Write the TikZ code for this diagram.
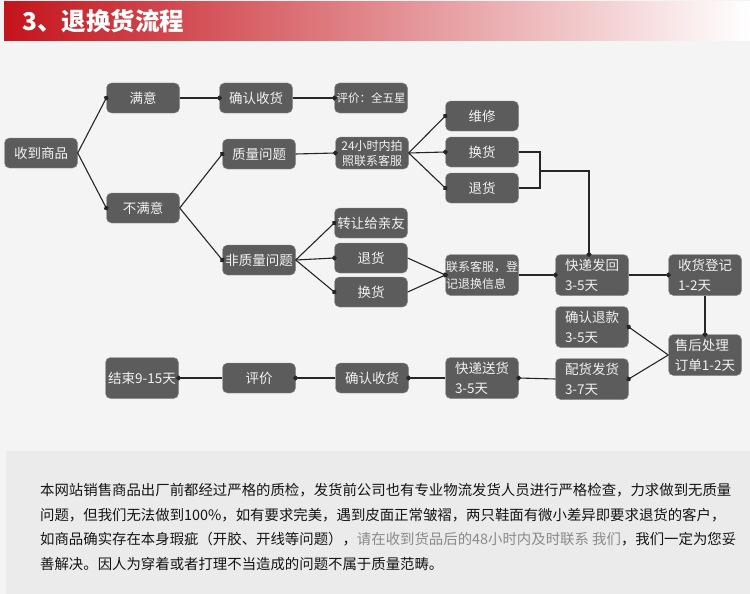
\documentclass[tikz,border=0pt]{standalone}
\usepackage{fontspec}
\setmainfont{Noto Sans CJK SC}
\usepackage{xcolor}
\usepackage{tikz}
\usetikzlibrary{arrows.meta,positioning,calc}
\definecolor{fondoGris}{HTML}{F4F4F4}
\definecolor{cajaGris}{HTML}{5C5C5C}
\definecolor{notaGris}{HTML}{EBEBEB}
\definecolor{tituloRojo}{HTML}{C4141C}
\definecolor{textoGris}{HTML}{8A8A8A}
\tikzset{
  paso/.style={draw=black!45, fill=cajaGris, rounded corners=5pt, text=white!95!black, font=\fontsize{13.5}{15}\selectfont, minimum width=73pt, minimum height=30pt, inner sep=2pt},
  pasodoble/.style={paso, minimum height=41pt, align=left, font=\fontsize{13.5}{20}\selectfont},
  enlace/.style={-{Circle[length=5pt]}, shorten >=-2.5pt, line width=1.1pt, draw=black!85},
  linea/.style={line width=1.1pt, draw=black!85},
  nota/.style={anchor=west, inner sep=0pt, text=black!92, font=\fontsize{14.4}{16}\selectfont},
}

\begin{document}
\begin{tikzpicture}[x=1pt,y=-1pt]
\useasboundingbox (0,0) rectangle (750,594);
\fill[fondoGris] (0,0) rectangle (750,594);
% cabecera
\shade[left color=tituloRojo, right color=white] (4,2) rectangle (750,41);
\node[anchor=west, inner sep=0pt, text=white, font=\fontsize{24.5}{27}\selectfont\bfseries] (titulo) at (22,21) {3、退换货流程};
\fill[notaGris] (6,451) rectangle (750,594);

% fila superior
\node[paso] (recibir) at (41,153) {收到商品};
\node[paso] (satisf) at (143,98) {满意};
\node[paso] (noSatisf) at (143,208) {不满意};
\node[paso] (confirma1) at (256,98) {确认收货};
\node[paso, font=\fontsize{11.5}{14}\selectfont] (valora5) at (371,98) {评价：全五星};
\node[paso] (calidad) at (259,154) {质量问题};
\node[paso, inner xsep=1pt] (noCalidad) at (259,260) {非质量问题};
\node[paso, align=center, minimum height=32pt, font=\fontsize{12}{15}\selectfont] (foto24) at (372,153) {24小时内拍\\照联系客服};
\node[paso] (reparar) at (482,116) {维修};
\node[paso] (cambio1) at (482,152) {换货};
\node[paso] (devol1) at (482,188) {退货};
\node[paso, inner xsep=1pt] (regalo) at (371,223) {转让给亲友};
\node[paso] (devol2) at (371,258) {退货};
\node[paso] (cambio2) at (371,292) {换货};
\node[pasodoble, inner xsep=0.5pt, font=\fontsize{12}{17}\selectfont] (registro) at (482,275) {联系客服，登\\记退换信息};
\node[pasodoble] (envioVuelta) at (592,275) {快递发回\\3-5天};
\node[pasodoble] (recepcion) at (705,275) {收货登记\\1-2天};
\node[pasodoble] (reembolso) at (592,327) {确认退款\\3-5天};
\node[pasodoble] (postventa) at (705,355) {售后处理\\订单1-2天};
% fila inferior
\node[pasodoble] (despacho) at (592,379) {配货发货\\3-7天};
\node[pasodoble] (envioIda) at (482,378) {快递送货\\3-5天};
\node[paso] (confirma2) at (372,378) {确认收货};
\node[paso] (valorar) at (259,378) {评价};
\node[paso, minimum height=41pt, inner xsep=1pt] (fin) at (142,378) {结束9-15天};

\draw[enlace] (recibir.east) -- (satisf.west);
\draw[enlace] (recibir.east) -- (noSatisf.west);
\draw[enlace] (satisf.east) -- (confirma1.west);
\draw[enlace] (confirma1.east) -- (valora5.west);
\draw[enlace] (noSatisf.east) -- (calidad.west);
\draw[enlace] (noSatisf.east) -- (noCalidad.west);
\draw[enlace] (calidad.east) -- (foto24.west);
\draw[enlace] (foto24.east) -- (reparar.west);
\draw[enlace] (foto24.east) -- (cambio1.west);
\draw[enlace] (foto24.east) -- (devol1.west);
\draw[enlace] (noCalidad.east) -- (regalo.west);
\draw[enlace] (noCalidad.east) -- (devol2.west);
\draw[enlace] (noCalidad.east) -- (cambio2.west);
\draw[enlace] (devol2.east) -- (registro.west);
\draw[enlace] (cambio2.east) -- (registro.west);
\coordinate (union) at (540,171);
\draw[linea] (cambio1.east) -| (union) |- (devol1.east);
\draw[enlace] (union) -| ([xshift=-3pt]envioVuelta.north);
\draw[enlace] (registro.east) -- (envioVuelta.west);
\draw[enlace] (envioVuelta.east) -- (recepcion.west);
\draw[enlace] (recepcion.south) -- (postventa.north);
\draw[enlace] (postventa.west) -- (reembolso.east);
\draw[enlace] (postventa.west) -- (despacho.east);
\draw[enlace] (despacho.west) -- (envioIda.east);
\draw[enlace] (envioIda.west) -- (confirma2.east);
\draw[enlace] (confirma2.west) -- (valorar.east);
\draw[enlace] (valorar.west) -- (fin.east);

% nota
\node[nota] (nota1) at (40,490) {本网站销售商品出厂前都经过严格的质检，发货前公司也有专业物流发货人员进行严格检查，力求做到无质量};
\node[nota] (nota2) at (40,515) {问题，但我们无法做到100\%，如有要求完美，遇到皮面正常皱褶，两只鞋面有微小差异即要求退货的客户，};
\node[nota] (nota3) at (40,539) {如商品确实存在本身瑕疵（开胶、开线等问题），\textcolor{textoGris}{请在收到货品后的48小时内及时联系 我们}，我们一定为您妥};
\node[nota] (nota4) at (40,564) {善解决。因人为穿着或者打理不当造成的问题不属于质量范畴。};
\end{tikzpicture}
\end{document}
